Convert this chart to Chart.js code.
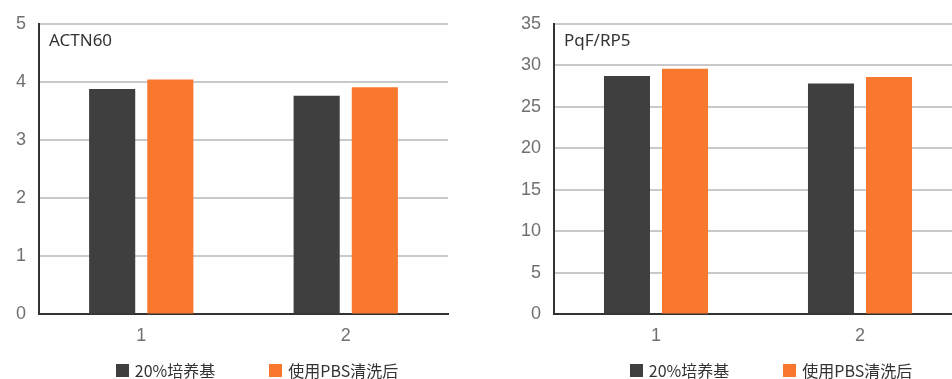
<!DOCTYPE html>
<html>
<head>
<meta charset="utf-8">
<script src="https://cdn.jsdelivr.net/npm/chart.js@4.4.1/dist/chart.umd.min.js"></script>
<style>
  html, body { margin: 0; padding: 0; background: #fff; overflow: hidden; }
  .row { display: flex; width: 1028px; height: 379px; }
  .box { position: relative; width: 514px; height: 379px; flex: none; }
</style>
</head>
<body>
<div class="row">
  <div class="box"><canvas class="js-actn"></canvas></div>
  <div class="box"><canvas class="js-pqf"></canvas></div>
</div>
<script>
const categories = ["1", "2"];
const seriesNames = ["20%培养基", "使用PBS清洗后"];
const seriesColors = ["#3f3f3f", "#f8792e"];

const actnTitle = "ACTN60";
const actnMedium = [3.88, 3.76];
const actnWashed = [4.04, 3.91];
const actnTicks = [0, 1, 2, 3, 4, 5];

const pqfTitle = "PqF/RP5";
const pqfMedium = [28.7, 27.8];
const pqfWashed = [29.6, 28.6];
const pqfTicks = [0, 5, 10, 15, 20, 25, 30, 35];

// small label in the top-left corner of the plot
const cornerTitle = {
  id: "cornerTitle",
  afterDraw(chart, args, opts) {
    const ctx = chart.ctx;
    ctx.save();
    ctx.font = "17px 'Noto Sans'";
    ctx.fillStyle = "#333";
    ctx.textBaseline = "alphabetic";
    ctx.fillText(opts.text, chart.chartArea.left + 10, chart.chartArea.top + 22);
    ctx.restore();
  },
};

// legend row under the chart, items spaced apart more than the built-in legend allows
const legendRow = {
  id: "legendRow",
  afterDraw(chart) {
    const ctx = chart.ctx;
    const box = 13, gap = 6, space = 54, y = 370;
    ctx.save();
    ctx.font = "16px 'Noto Sans CJK SC'";
    ctx.textBaseline = "middle";
    const items = chart.data.datasets.map((ds) => ({
      color: ds.backgroundColor,
      text: ds.label,
      w: ctx.measureText(ds.label).width,
    }));
    const total = items.reduce((s, it) => s + box + gap + it.w, 0) + space * (items.length - 1);
    let x = chart.width / 2 - total / 2;
    items.forEach((it) => {
      ctx.fillStyle = it.color;
      ctx.fillRect(Math.round(x), y - 6, box, box);
      ctx.fillStyle = "#333";
      ctx.fillText(it.text, x + box + gap, y + 1);
      x += box + gap + it.w + space;
    });
    ctx.restore();
  },
};

const makeChart = function (el, title, medium, washed, ticks, axisWidth) {
  new Chart(el, {
    type: "bar",
    data: {
      labels: categories,
      datasets: [
        { label: seriesNames[0], data: medium, backgroundColor: seriesColors[0] },
        { label: seriesNames[1], data: washed, backgroundColor: seriesColors[1] },
      ],
    },
    options: {
      responsive: true,
      maintainAspectRatio: false,
      animation: false,
      barPercentage: 0.793,
      categoryPercentage: 0.569,
      layout: { padding: { top: 19, right: 66, bottom: 21, left: 0 } },
      scales: {
        y: {
          min: ticks[0],
          max: ticks[ticks.length - 1],
          afterFit: (scale) => { scale.width = axisWidth; },
          grid: { color: "#c9c9c9", lineWidth: 2, drawTicks: false },
          border: { display: true, color: "#333", width: 2 },
          ticks: {
            stepSize: ticks[1] - ticks[0],
            padding: 13,
            color: "#707070",
            font: { family: "'Liberation Sans', Arial, sans-serif", size: 18 },
          },
        },
        x: {
          grid: { display: false, drawTicks: false },
          border: { display: true, color: "#333", width: 2 },
          ticks: {
            padding: 11,
            color: "#707070",
            font: { family: "'Liberation Sans', Arial, sans-serif", size: 18 },
          },
        },
      },
      plugins: {
        legend: { display: false },
        tooltip: { enabled: false },
        cornerTitle: { text: title },
      },
    },
    plugins: [cornerTitle, legendRow],
  });
};

const init = function () {
  makeChart(document.querySelector(".js-actn"), actnTitle, actnMedium, actnWashed, actnTicks, 39);
  makeChart(document.querySelector(".js-pqf"), pqfTitle, pqfMedium, pqfWashed, pqfTicks, 40);
};

document.addEventListener("DOMContentLoaded", init);
</script>
</body>
</html>
